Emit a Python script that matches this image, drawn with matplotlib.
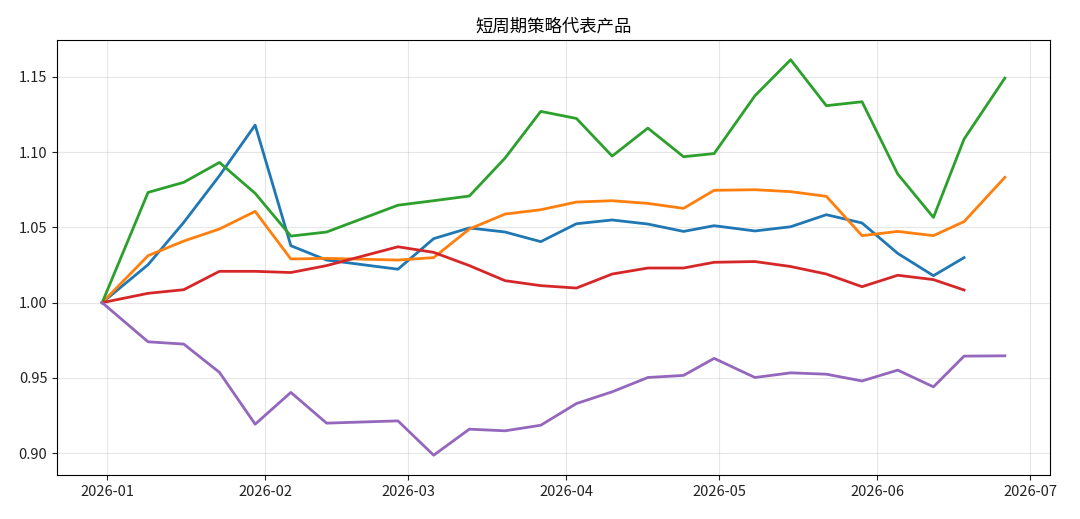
import matplotlib
matplotlib.use("Agg")
import matplotlib.pyplot as plt
import matplotlib.dates as mdates
import pandas as pd

plt.rcParams['font.family'] = ['Noto Sans CJK SC', 'DejaVu Sans']

title = "短周期策略代表产品"

dates_all = ["2025-12-31", "2026-01-09", "2026-01-16", "2026-01-23", "2026-01-30",
             "2026-02-06", "2026-02-13", "2026-02-27", "2026-03-06", "2026-03-13",
             "2026-03-20", "2026-03-27", "2026-04-03", "2026-04-10", "2026-04-17",
             "2026-04-24", "2026-04-30", "2026-05-08", "2026-05-15", "2026-05-22",
             "2026-05-29", "2026-06-05", "2026-06-12", "2026-06-18", "2026-06-26"]

blue = [1.000, 1.0252, 1.0533, 1.0843, 1.1179, 1.0378, 1.0283, 1.0222, 1.0425, 1.0496,
        1.0469, 1.0405, 1.0524, 1.0549, 1.0522, 1.0473, 1.0511, 1.0476, 1.0504, 1.0584,
        1.0529, 1.0327, 1.0179, 1.0299]
orange = [1.000, 1.0312, 1.0409, 1.0489, 1.0606, 1.0290, 1.0294, 1.0283, 1.0299, 1.0489,
          1.0588, 1.0617, 1.0668, 1.0677, 1.0659, 1.0626, 1.0746, 1.0750, 1.0737, 1.0706,
          1.0445, 1.0473, 1.0445, 1.0538, 1.0832]
green = [1.000, 1.0732, 1.0799, 1.0931, 1.0726, 1.0442, 1.0469, 1.0647, 1.0677, 1.0708,
         1.0960, 1.1270, 1.1223, 1.0973, 1.1159, 1.0969, 1.0990, 1.1374, 1.1613, 1.1308,
         1.1334, 1.0854, 1.0566, 1.1086, 1.1491]
red = [1.000, 1.0062, 1.0086, 1.0208, 1.0208, 1.0200, 1.0246, 1.0371, 1.0334, 1.0246,
       1.0146, 1.0113, 1.0097, 1.0190, 1.0230, 1.0230, 1.0268, 1.0273, 1.0240, 1.0190,
       1.0106, 1.0182, 1.0153, 1.0084]
purple = [1.000, 0.9740, 0.9725, 0.9537, 0.9193, 0.9404, 0.9200, 0.9215, 0.8987, 0.9160,
          0.9149, 0.9186, 0.9330, 0.9408, 0.9503, 0.9517, 0.9630, 0.9503, 0.9534, 0.9525,
          0.9480, 0.9552, 0.9441, 0.9645, 0.9647]

series = [(blue, "#1f77b4"), (orange, "#ff7f0e"), (green, "#2ca02c"),
          (red, "#d62728"), (purple, "#9467bd")]

dates = pd.to_datetime(dates_all)

fig = plt.figure(figsize=(10.8, 5.19), dpi=100)
ax = fig.add_axes([0.0528, 0.0848, 0.9194, 0.8382])

for vals, col in series:
    ax.plot(dates[:len(vals)], vals, color=col, linewidth=2)

ax.set_title(title, fontsize=12.5, pad=6)
ax.grid(True, color="#b0b0b0", alpha=0.3, linewidth=0.8)
ax.xaxis.set_major_locator(mdates.MonthLocator())
ax.xaxis.set_major_formatter(mdates.DateFormatter("%Y-%m"))
ax.yaxis.set_major_formatter(matplotlib.ticker.FormatStrFormatter("%.2f"))
ax.tick_params(labelsize=10.5, colors="#222222")

fig.savefig("out.png", dpi=100)
